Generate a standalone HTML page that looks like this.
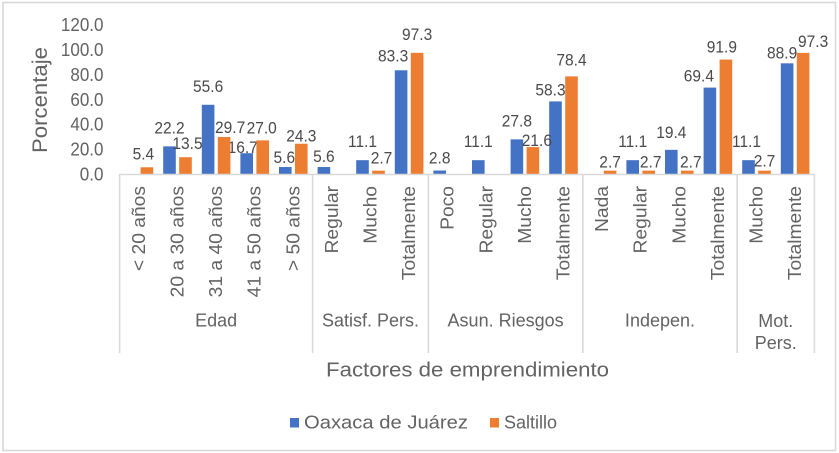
<!DOCTYPE html>
<html lang="es">
<head>
<meta charset="utf-8">
<title>Factores de emprendimiento</title>
<style>
html,body{margin:0;padding:0;background:#fff;}
svg{display:block;font-family:"Liberation Sans",sans-serif;}
</style>
</head>
<body>
<svg id="chart" width="839" height="453" viewBox="0 0 839 453" xmlns="http://www.w3.org/2000/svg">
  <rect x="3" y="2.5" width="832.5" height="448" fill="#fff" stroke="#d9d9d9" stroke-width="1.6"/>
  <g id="plot"></g>
  <text transform="translate(47,100) rotate(-90)" text-anchor="middle" font-size="21" fill="#636363" textLength="106" lengthAdjust="spacingAndGlyphs">Porcentaje</text>
  <text x="467.5" y="376.5" text-anchor="middle" font-size="20" fill="#636363" textLength="283" lengthAdjust="spacingAndGlyphs">Factores de emprendimiento</text>
  <g>
    <rect x="290" y="418" width="9" height="9.5" fill="#4472c4"/>
    <text x="304" y="428.5" font-size="18" fill="#636363" textLength="164" lengthAdjust="spacingAndGlyphs">Oaxaca de Juárez</text>
    <rect x="490" y="418" width="9" height="9.5" fill="#ed7d31"/>
    <text x="504" y="428.5" font-size="18" fill="#636363" textLength="53" lengthAdjust="spacingAndGlyphs">Saltillo</text>
  </g>
</svg>
<script>
const categories = ["< 20 años","20 a 30 años","31 a 40 años","41 a 50 años","> 50 años","Regular","Mucho","Totalmente","Poco","Regular","Mucho","Totalmente","Nada","Regular","Mucho","Totalmente","Mucho","Totalmente"];
const oaxacaValues = [null,22.2,55.6,16.7,5.6,5.6,11.1,83.3,2.8,11.1,27.8,58.3,null,11.1,19.4,69.4,11.1,88.9];
const saltilloValues = [5.4,13.5,29.7,27.0,24.3,null,2.7,97.3,null,null,21.6,78.4,2.7,2.7,2.7,91.9,2.7,97.3];
const yTicks = [0,20,40,60,80,100,120];
const groupNames = ["Edad","Satisf. Pers.","Asun. Riesgos","Indepen.","Mot.|Pers."];
const groupSizes = [5,3,4,4,2];

/* Layout (not data): hand placement of overlapping data labels, by category index */
const oaxacaNudge = {1:[0,-5],2:[0,-5],3:[-4,8],4:[-1,4],5:[0,3],6:[0,-5],7:[-8,-1],8:[0,1],9:[0,-5],10:[0,-5],11:[-5,2],13:[0,-5],14:[0,-4],15:[-11,2],16:[-2,-5],17:[-5,3]};
const saltilloNudge = {0:[-3.5,0],1:[2,0],2:[6,4],3:[-1,1],4:[0,6],6:[3,1],7:[0,-5],10:[4,7],11:[0,-3],12:[0,5],13:[2,5],14:[3.5,5],15:[-4,1],16:[0,4],17:[10,2]};

const NS = "http://www.w3.org/2000/svg";
const plot = document.getElementById("plot");
const left = 119.6, step = 38.6, baseY = 174, unit = 1.245;
const barW = 12.6, barOffset = 8;
const xCenter = i => left + step * (i + 0.5);
const yPos = v => baseY - v * unit;

function mk(tag, attrs, text) {
  const el = document.createElementNS(NS, tag);
  for (const k in attrs) el.setAttribute(k, attrs[k]);
  if (text !== undefined) el.textContent = text;
  plot.appendChild(el);
  return el;
}
function widen(el, factor) {
  const w = el.getComputedTextLength();
  el.setAttribute("textLength", (w * factor).toFixed(1));
  el.setAttribute("lengthAdjust", "spacingAndGlyphs");
}

/* y tick labels */
yTicks.forEach(t => {
  const el = mk("text", {x:103.5, y:yPos(t) + 6.5, "text-anchor":"end", "font-size":18, fill:"#636363"}, t.toFixed(1));
  
  
  widen(el, 0.945);
});

/* series bars and data labels */
function drawSeries(values, nudges, color, side, seriesName) {
  values.forEach((v, i) => {
    if (v === null) return;
    const cx = xCenter(i) + side * barOffset;
    const bar = mk("rect", {x:cx - barW / 2, y:yPos(v), width:barW, height:baseY - yPos(v), fill:color});
    
    
    const n = nudges[i] || [0, 0];
    const lab = mk("text", {x:cx + n[0], y:yPos(v) - 14 + n[1] + 6, "text-anchor":"middle", "font-size":16.5, fill:"#4a4a4a"}, v.toFixed(1));
    
    
    widen(lab, 0.94);
  });
}
drawSeries(oaxacaValues, oaxacaNudge, "#4472c4", -1, "oaxaca");
drawSeries(saltilloValues, saltilloNudge, "#ed7d31", 1, "saltillo");

/* category labels */
categories.forEach((c, i) => {
  const x = xCenter(i) + 6;
  const el = mk("text", {transform:"translate(" + x + ",186) rotate(-90)", "text-anchor":"end", "font-size":18, fill:"#636363"}, c);
  
  
  widen(el, 1.07);
});

/* x axis line and group separators */
const axisLine = mk("line", {x1:left, x2:left + step * categories.length, y1:baseY + 0.5, y2:baseY + 0.5, stroke:"#d9d9d9", "stroke-width":1.6});



let start = 0;
const drawSep = idx => {
  const sx = left + step * idx;
  const sep = mk("line", {x1:sx, x2:sx, y1:baseY, y2:353, stroke:"#d9d9d9", "stroke-width":1.6});
  
  
};
drawSep(0);
groupNames.forEach((g, gi) => {
  const end = start + groupSizes[gi];
  drawSep(end);
  const gx = left + step * (start + end) / 2;
  const lines = g.split("|");
  lines.forEach((ln, li) => {
    const y = lines.length > 1 ? 327 + li * 22 : 326.5;
    const el = mk("text", {x:gx, y:y, "text-anchor":"middle", "font-size":18, fill:"#636363"}, ln);
    
    
    widen(el, 1.0);
  });
  start = end;
});
</script>
</body>
</html>
